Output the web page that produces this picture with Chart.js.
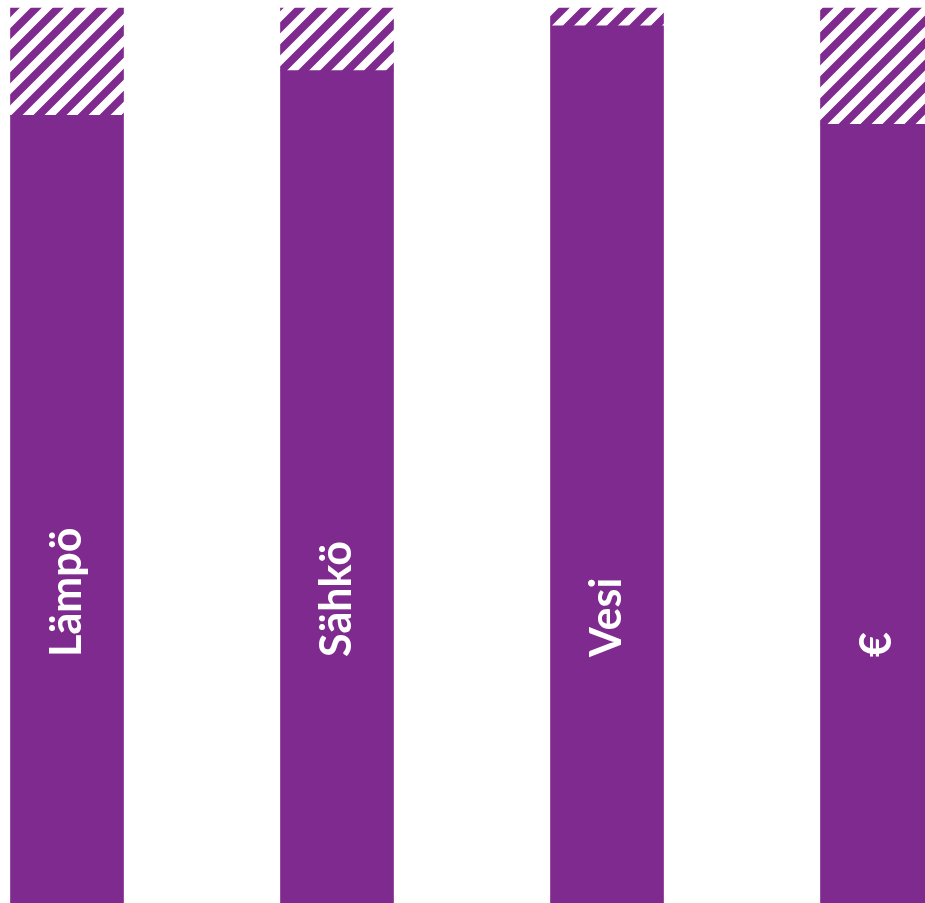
<!DOCTYPE html>
<html>
<head>
<meta charset="utf-8">
<script src="https://cdn.jsdelivr.net/npm/chart.js@4"></script>
<style>
html,body{margin:0;padding:0;background:#fff;overflow:hidden;}
#wrap{width:925px;height:903px;position:relative;}
</style>
</head>
<body>
<div id="wrap"><canvas id="c" width="925" height="903"></canvas></div>
<script>
const categories = ['Lämpö', 'Sähkö', 'Vesi', '€'];
const solidValues = [88, 93, 98, 87];
const hatchedValues = [12, 7, 2, 13];

const PURPLE = '#7f2a8e';

function makePattern() {
  const s = 22;
  const p = document.createElement('canvas');
  p.width = s; p.height = s;
  const g = p.getContext('2d');
  g.fillStyle = '#ffffff';
  g.fillRect(0, 0, s, s);
  g.strokeStyle = PURPLE;
  g.lineWidth = 7.8;
  g.beginPath();
  g.moveTo(-s, 2 * s); g.lineTo(2 * s, -s);
  g.moveTo(-s, s); g.lineTo(s, -s);
  g.moveTo(0, 2 * s); g.lineTo(2 * s, 0);
  g.stroke();
  return g.createPattern(p, 'repeat');
}

const labelPlugin = {
  id: 'barLabels',
  afterDatasetsDraw(chart) {
    const ctx = chart.ctx;
    const meta = chart.getDatasetMeta(0);
    const area = chart.chartArea;
    const yAnchor = area.bottom - (area.bottom - area.top) * 0.275;
    ctx.save();
    ctx.fillStyle = '#ffffff';
    ctx.font = 'bold 43px Lato, "DejaVu Sans", sans-serif';
    ctx.textAlign = 'left';
    ctx.textBaseline = 'alphabetic';
    meta.data.forEach((bar, i) => {
      ctx.save();
      ctx.translate(bar.x + 14, yAnchor);
      ctx.rotate(-Math.PI / 2);
      ctx.fillText(categories[i], 0, 0);
      ctx.restore();
    });
    ctx.restore();
  }
};

new Chart(document.getElementById('c'), {
  type: 'bar',
  data: {
    labels: categories,
    datasets: [
      { data: solidValues, backgroundColor: PURPLE, borderWidth: 0, barThickness: 113, clip: false },
      { data: hatchedValues, backgroundColor: makePattern(), borderWidth: 0, barThickness: 113, clip: false }
    ]
  },
  options: {
    responsive: false,
    animation: false,
    layout: { padding: { left: 67, right: 48, top: 8, bottom: 0 } },
    plugins: { legend: { display: false }, tooltip: { enabled: false } },
    scales: {
      x: { display: false, stacked: true, offset: false, grid: { display: false } },
      y: { display: false, stacked: true, min: 0, max: 100, grid: { display: false } }
    }
  },
  plugins: [labelPlugin]
});
</script>
</body>
</html>
